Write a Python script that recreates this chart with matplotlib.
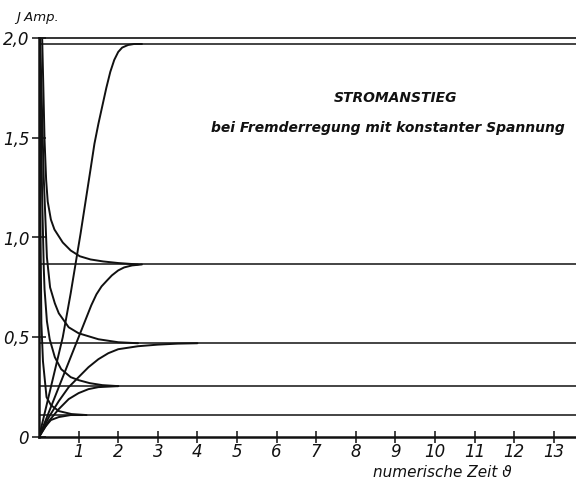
import matplotlib.pyplot as plt

# end values of the current (Amp.)
levels = [1.97, 0.865, 0.47, 0.255, 0.11]

# rising currents, starting from zero
rise_t = [
    [0, 0.3, 0.6, 0.8, 1.05, 1.3, 1.4, 1.5, 1.6, 1.7, 1.8, 1.9, 2.0, 2.1, 2.25, 2.4, 2.6],
    [0, 0.5, 1.0, 1.2, 1.32, 1.45, 1.58, 1.72, 1.84, 2.0, 2.15, 2.35, 2.6],
    [0, 0.25, 0.5, 0.75, 1.0, 1.25, 1.5, 1.75, 2.0, 2.5, 3.0, 3.5, 4.0],
    [0, 0.25, 0.5, 0.75, 1.0, 1.25, 1.5, 2.0],
    [0, 0.15, 0.3, 0.5, 0.8, 1.1],
]
rise_i = [
    [0, 0.25, 0.5, 0.72, 1.02, 1.34, 1.47, 1.57, 1.66, 1.75, 1.83, 1.89, 1.93, 1.952, 1.965, 1.97, 1.97],
    [0, 0.25, 0.5, 0.6, 0.66, 0.715, 0.755, 0.785, 0.81, 0.835, 0.85, 0.86, 0.865],
    [0, 0.1, 0.18, 0.25, 0.3, 0.35, 0.39, 0.42, 0.44, 0.455, 0.463, 0.468, 0.47],
    [0, 0.08, 0.14, 0.19, 0.22, 0.24, 0.25, 0.255],
    [0, 0.05, 0.085, 0.1, 0.11, 0.11],
]

# falling currents, starting high at the beginning
fall_t = [
    [0.08, 0.11, 0.14, 0.18, 0.22, 0.3, 0.39, 0.6, 0.8, 1.03, 1.3, 1.62, 2.0, 2.5],
    [0.03, 0.12, 0.2, 0.28, 0.4, 0.5, 0.75, 1.0, 1.5, 2.0, 2.5],
    [0.02, 0.08, 0.12, 0.14, 0.2, 0.27, 0.4, 0.56, 0.8, 1.0, 1.28, 1.6, 2.0],
    [0.01, 0.04, 0.06, 0.1, 0.19, 0.3, 0.5, 0.82, 1.2],
]
fall_i = [
    [2.0, 1.75, 1.49, 1.29, 1.18, 1.09, 1.04, 0.975, 0.935, 0.906, 0.89, 0.88, 0.872, 0.865],
    [2.0, 1.3, 0.9, 0.75, 0.67, 0.62, 0.55, 0.52, 0.49, 0.475, 0.47],
    [2.0, 1.2, 0.85, 0.74, 0.58, 0.49, 0.4, 0.34, 0.3, 0.285, 0.27, 0.26, 0.255],
    [2.0, 1.0, 0.57, 0.38, 0.2, 0.16, 0.13, 0.115, 0.11],
]

x_ticks = list(range(1, 14))
y_ticks = [0, 0.5, 1.0, 1.5, 2.0]
y_labels = ["0", "0,5", "1,0", "1,5", "2,0"]

fig = plt.figure(figsize=(5.76, 4.86), dpi=100)
ax = fig.add_axes([39 / 576, 49 / 486, 537 / 576, 399 / 486])
ax.set_xlim(0, 537 / 39.6)
ax.set_ylim(0, 2.0)

ink = "#111111"
ax.axhline(2.0, color=ink, lw=1.2, clip_on=False)
for lv in levels:
    ax.axhline(lv, color=ink, lw=1.1)

for t, i in zip(rise_t, rise_i):
    ax.plot(t, i, color=ink, lw=1.4, solid_capstyle="round", solid_joinstyle="round")
for t, i in zip(fall_t, fall_i):
    ax.plot(t, i, color=ink, lw=1.4, solid_capstyle="round", solid_joinstyle="round")

for side in ["top", "right"]:
    ax.spines[side].set_visible(False)
for side in ["left", "bottom"]:
    ax.spines[side].set_linewidth(1.8)
    ax.spines[side].set_color(ink)

lab_font = dict(family="DejaVu Sans", style="oblique")
ax.set_xticks(x_ticks)
ax.set_xticklabels([str(v) for v in x_ticks], fontsize=12, **lab_font)
ax.set_yticks(y_ticks)
ax.set_yticklabels(y_labels, fontsize=12, **lab_font)
ax.tick_params(axis="x", direction="inout", length=9, width=1.1, pad=0, colors=ink)
ax.tick_params(axis="y", direction="inout", length=10, width=1.1, pad=2, colors=ink)

ax.text(9.0, 1.70, "STROMANSTIEG", ha="center", va="center",
        fontsize=10, fontweight="bold", style="oblique", color=ink)
ax.text(8.8, 1.55, "bei Fremderregung mit konstanter Spannung", ha="center",
        va="center", fontsize=10, fontweight="bold", style="oblique", color=ink)

fig.text(38 / 576, 1 - 17 / 486, "J Amp.", ha="center", va="center",
         fontsize=9.5, style="oblique", color=ink)
fig.text(442 / 576, 1 - 472 / 486, "numerische Zeit \u03d1", ha="center",
         va="center", fontsize=11, style="oblique", color=ink)

fig.savefig("out.png", dpi=100)
